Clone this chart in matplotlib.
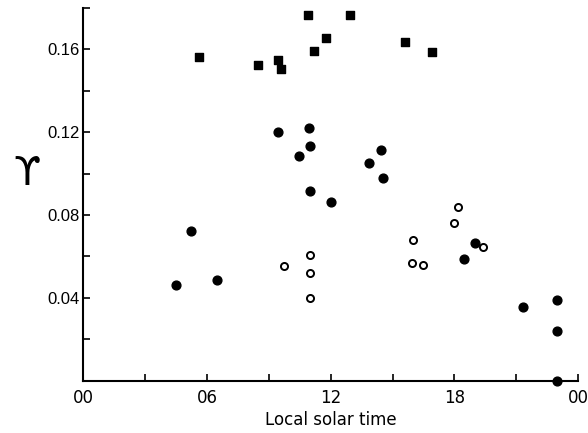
import matplotlib
matplotlib.use("Agg")
import matplotlib.pyplot as plt
from matplotlib.ticker import MultipleLocator, FixedLocator

# Data (local solar time in hours, upsilon value)
sq_x = [5.60, 8.48, 9.42, 9.57, 10.91, 12.92, 11.77, 11.18, 15.61, 16.92]
sq_y = [0.1562, 0.1523, 0.1551, 0.1506, 0.1768, 0.1768, 0.1654, 0.1591, 0.1636, 0.1589]

fc_x = [9.42, 10.96, 10.97, 10.47, 14.42, 13.85, 14.53, 10.97, 12.01,
        4.47, 5.23, 6.48, 19.01, 18.46, 21.31, 22.97, 22.99, 22.99]
fc_y = [0.1201, 0.1220, 0.1131, 0.1083, 0.1114, 0.1051, 0.0981, 0.0914, 0.0861,
        0.0462, 0.0725, 0.0485, 0.0664, 0.0588, 0.0356, 0.0388, 0.0241, 0.0]

oc_x = [9.74, 18.20, 10.99, 10.99, 10.99, 15.99, 15.95, 16.47, 17.99, 19.38]
oc_y = [0.0553, 0.0841, 0.0608, 0.0519, 0.0401, 0.0680, 0.0566, 0.0558, 0.0761, 0.0645]

x_ticks = [0, 6, 12, 18, 24]
x_tick_labels = ["00", "06", "12", "18", "00"]
y_ticks = [0.04, 0.08, 0.12, 0.16]
y_tick_labels = ["0.04", "0.08", "0.12", "0.16"]

fig = plt.figure(figsize=(5.88, 4.33), dpi=100)
ax = fig.add_axes([0.142, 0.121, 0.841, 0.8605])

ax.scatter(sq_x, sq_y, marker="s", s=30, color="black", zorder=3, clip_on=False)
ax.scatter(fc_x, fc_y, marker="o", s=40, color="black", zorder=3, clip_on=False)
ax.scatter(oc_x, oc_y, marker="o", s=26, facecolor="white", edgecolor="black",
           linewidths=1.4, zorder=3, clip_on=False)

ax.set_xlim(0, 24)
ax.set_ylim(0, 0.18)

for s in ["top", "right"]:
    ax.spines[s].set_visible(False)
for s in ["left", "bottom"]:
    ax.spines[s].set_linewidth(1.5)

ax.xaxis.set_major_locator(FixedLocator(x_ticks))
ax.set_xticklabels(x_tick_labels)
ax.xaxis.set_minor_locator(MultipleLocator(3))
ax.yaxis.set_major_locator(FixedLocator(y_ticks))
ax.set_yticklabels(y_tick_labels)
ax.yaxis.set_minor_locator(MultipleLocator(0.02))

ax.tick_params(axis="both", which="both", direction="in", length=5, width=1.2)
ax.tick_params(axis="x", which="major", pad=6, labelsize=12)
ax.tick_params(axis="y", which="major", pad=3)
for lab in ax.get_yticklabels():
    lab.set_family(["Liberation Sans", "DejaVu Sans"])
    lab.set_fontsize(12)

ax.set_xlabel("Local solar time", fontsize=12, labelpad=3)
fig.text(0.045, 0.598, "\u03d2", fontsize=28, ha="center", va="center")

fig.savefig("out.png", dpi=100)
